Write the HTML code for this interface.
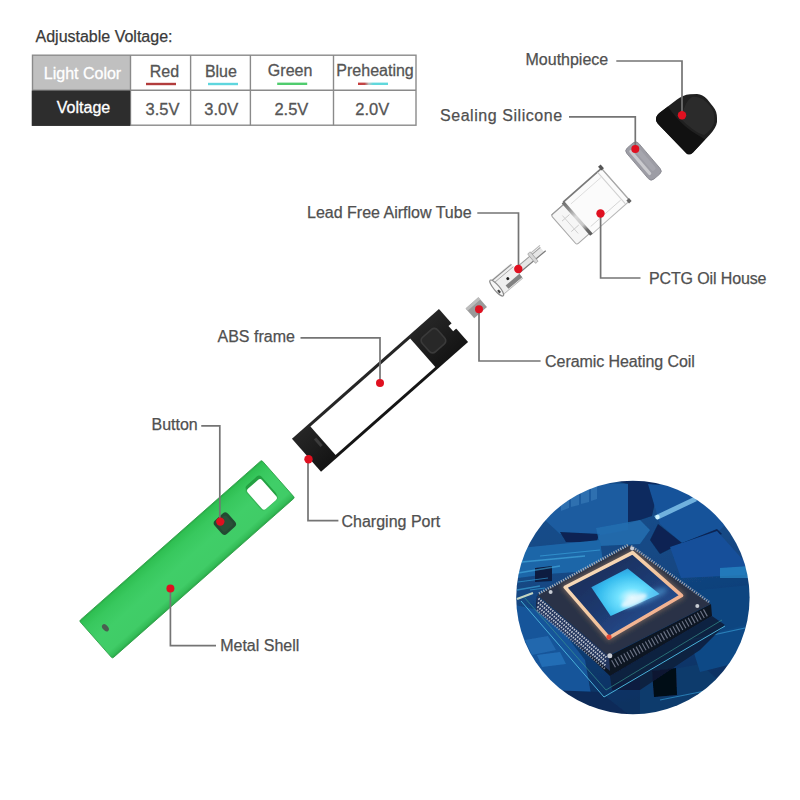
<!DOCTYPE html>
<html><head><meta charset="utf-8">
<style>
html,body{margin:0;padding:0;background:#fff;}
body{width:800px;height:800px;position:relative;overflow:hidden;font-family:"Liberation Sans",sans-serif;}
.l{position:absolute;font-size:16px;line-height:16px;color:#505050;white-space:nowrap;-webkit-text-stroke:0.25px currentColor;}
.t{position:absolute;font-size:16px;line-height:16px;white-space:nowrap;text-align:center;-webkit-text-stroke:0.3px currentColor;}
svg{position:absolute;left:0;top:0;}
</style></head><body>
<svg width="800" height="800" viewBox="0 0 800 800">
<defs>
<clipPath id="cc"><circle cx="632.9" cy="597.5" r="116.7"/></clipPath>
<linearGradient id="preh" x1="0" x2="1" y1="0" y2="0">
<stop offset="0" stop-color="#c83c3c"/><stop offset="0.22" stop-color="#c04848"/><stop offset="0.36" stop-color="#b8c8c8"/><stop offset="0.5" stop-color="#60d8dc"/><stop offset="1" stop-color="#60d8dc"/>
</linearGradient>
<radialGradient id="glow" cx="0.6" cy="0.62" r="0.75">
<stop offset="0" stop-color="#f4ffff"/><stop offset="0.28" stop-color="#72e2ff"/><stop offset="0.65" stop-color="#36bcee"/><stop offset="1" stop-color="#2888d0"/>
</radialGradient>
<linearGradient id="bgc" x1="0" y1="0" x2="0.2" y2="1">
<stop offset="0" stop-color="#17528f"/><stop offset="0.5" stop-color="#124682"/><stop offset="1" stop-color="#0b3060"/>
</linearGradient>
<filter id="blur06" x="-5%" y="-5%" width="110%" height="110%"><feGaussianBlur stdDeviation="0.55"/></filter>
<filter id="blur1" x="-50%" y="-50%" width="200%" height="200%"><feGaussianBlur stdDeviation="1.5"/></filter>
<filter id="blur2" x="-50%" y="-50%" width="200%" height="200%"><feGaussianBlur stdDeviation="2.5"/></filter>
<linearGradient id="dieg" x1="0" y1="0" x2="1" y2="1"><stop offset="0" stop-color="#1a2850"/><stop offset="0.5" stop-color="#1e3a70"/><stop offset="1" stop-color="#2a5aa6"/></linearGradient>
<linearGradient id="rimg" x1="0" y1="0" x2="1" y2="1"><stop offset="0" stop-color="#f8e4c8"/><stop offset="0.5" stop-color="#f4c8a0"/><stop offset="1" stop-color="#f09a80"/></linearGradient>
</defs>

<!-- TABLE -->
<rect x="32.5" y="55.5" width="98" height="35" fill="#c0c0c0"/>
<g stroke="#8a8a8a" stroke-width="1.4" fill="none">
<rect x="32.5" y="55.2" width="383.5" height="70"/>
<line x1="32.5" y1="90.2" x2="416" y2="90.2"/>
<line x1="130.5" y1="55" x2="130.5" y2="125.5"/>
<line x1="190.6" y1="55" x2="190.6" y2="125.5"/>
<line x1="250.4" y1="55" x2="250.4" y2="125.5"/>
<line x1="333.5" y1="55" x2="333.5" y2="125.5"/>
</g>
<rect x="31.8" y="90.6" width="98.4" height="35.3" fill="#2d2d2d"/>
<rect x="146" y="82.8" width="30" height="2.4" fill="#b23c3c"/>
<rect x="208" y="82.8" width="30" height="2.4" fill="#5ed6de"/>
<rect x="277.2" y="82.6" width="30" height="2.4" fill="#50cc6e"/>
<rect x="358" y="82.6" width="30" height="2.4" fill="url(#preh)"/>

<!-- MOUTHPIECE -->
<path d="M656,119 C656,116 658,114 660,112.5 L677,99.5 C681,96.5 685,94.5 690,94.2 L697,94 C701,94.2 704,96 707,99 L713,106.5 C716,110 717,114 717,118 L717,122 C716.5,126 714,130 710,134.5 L693,152.5 C691,154.5 688.5,155 686.5,153.5 L659,125 C656.5,122.5 656,121 656,119 Z" fill="#202020"/>
<path d="M692,97 C699,96 705,100 710,106 C714,111 715,117 714,123 C712,128 709,132 704,135 C697,133 688,126 681,119 C683,110 686,101 692,97 Z" fill="#2e2e2e" opacity="0.85"/>
<path d="M656,119 C656,116 658,114 660,112.5 L668,106.5 C672,113 680,122 688,128.5 C694,133 700,136 705,139.5 L693,152.5 C691,154.5 688.5,155 686.5,153.5 L659,125 C656.5,122.5 656,121 656,119 Z" fill="#111111"/>

<!-- SEALING SILICONE -->
<g transform="translate(643.5,161) rotate(49.5)">
<rect x="-20.5" y="-7.8" width="41" height="15.6" rx="4" fill="#9d9da5" stroke="#85858d" stroke-width="0.8"/>
<rect x="-17" y="1.8" width="32" height="3.2" rx="1.5" fill="#cacace"/>
<rect x="-12" y="-5" width="26" height="5" rx="2" fill="#a6a6ae"/>
</g>

<!-- PCTG OIL HOUSE -->
<g transform="translate(589.8,207.3) rotate(-41.4)" fill="none">
<rect x="-16.5" y="-21.5" width="51" height="43" fill="#fbfbfb" stroke="#b8b8b8" stroke-width="1"/>
<rect x="-34.5" y="-19.5" width="18" height="39" rx="2" fill="#f6f6f6" stroke="#a8a8a8" stroke-width="1.1"/>
<line x1="-16.5" y1="-21.5" x2="34.5" y2="-21.5" stroke="#7a7a7a" stroke-width="1.7"/>
<line x1="-34" y1="-19.5" x2="-16.5" y2="-19.5" stroke="#9a9a9a" stroke-width="1.2"/>
<defs><linearGradient id="bandg" x1="0" y1="0" x2="0" y2="1"><stop offset="0" stop-color="#6e6e6e"/><stop offset="0.2" stop-color="#8a8a8a"/><stop offset="0.45" stop-color="#d8d8d8"/><stop offset="0.7" stop-color="#c8c8c8"/><stop offset="0.85" stop-color="#6a6a6a"/><stop offset="1" stop-color="#5a5a5a"/></linearGradient></defs>
<rect x="-18.5" y="-21.5" width="3.4" height="43" fill="url(#bandg)"/>
<line x1="34.5" y1="-22.5" x2="34.5" y2="22.5" stroke="#a8a8a8" stroke-width="1.4"/>
<line x1="29" y1="-21" x2="29" y2="21" stroke="#d0d0d0" stroke-width="1"/>
<line x1="-12" y1="-15" x2="28" y2="-15" stroke="#dcdcdc" stroke-width="0.9"/>
<line x1="-12" y1="15" x2="28" y2="15" stroke="#d4d4d4" stroke-width="0.9"/>
<rect x="33" y="-25" width="3.5" height="5" fill="#555"/>
<rect x="32" y="19" width="3.5" height="4" fill="#666"/>
<line x1="-30" y1="-8" x2="-20" y2="-8" stroke="#c8c8c8" stroke-width="0.9"/>
<line x1="-30" y1="6" x2="-20" y2="6" stroke="#c8c8c8" stroke-width="0.9"/>
<line x1="-26" y1="-12" x2="-26" y2="12" stroke="#d0d0d0" stroke-width="0.9"/>
</g>

<!-- AIRFLOW TUBE -->
<g transform="translate(496.3,288.3) rotate(-40)">
<rect x="0" y="-10" width="27" height="20" fill="#efefef"/>
<line x1="1" y1="-8.6" x2="27" y2="-8.6" stroke="#8c8c8c" stroke-width="1.2"/>
<line x1="2" y1="-5.6" x2="27" y2="-5.6" stroke="#a8a8a8" stroke-width="0.9"/>
<rect x="9" y="3.8" width="18" height="4.4" fill="#828282"/>
<line x1="2" y1="9.2" x2="27" y2="9.2" stroke="#b0b0b0" stroke-width="0.8"/>
<circle cx="15" cy="0" r="1.5" fill="#1a1a1a"/>
<ellipse cx="0.5" cy="0" rx="2.8" ry="10.2" fill="#f6f6f6" stroke="#8a8a8a" stroke-width="1.1"/>
<rect x="-1" y="2.5" width="2.2" height="3.4" fill="#444"/>
<rect x="27" y="-3.4" width="33" height="6.8" fill="#e6e6e6"/>
<line x1="27" y1="-3" x2="60" y2="-3" stroke="#9c9c9c" stroke-width="1"/>
<line x1="27" y1="3" x2="62" y2="3" stroke="#7c7c7c" stroke-width="1.2"/>
<rect x="46" y="-6.2" width="3.5" height="12.4" rx="1" fill="#d6d6d6" stroke="#9a9a9a" stroke-width="0.7"/>
<line x1="49" y1="-4.8" x2="61" y2="-4.8" stroke="#b8b8b8" stroke-width="1.2"/>
</g>

<!-- CERAMIC COIL -->
<g transform="translate(476.3,307.8) rotate(-41.4)">
<rect x="-8.5" y="-6.5" width="17" height="13" fill="#9a9a9a"/>
<rect x="-8.5" y="-6.5" width="17" height="3" fill="#bdbdbd"/>
</g>

<!-- ABS FRAME -->
<g transform="translate(380,390.4) rotate(-41.4)">
<defs><linearGradient id="absg" x1="0" y1="0" x2="0" y2="1"><stop offset="0" stop-color="#262626"/><stop offset="1" stop-color="#141414"/></linearGradient></defs>
<rect x="-98" y="-22" width="196" height="44" fill="url(#absg)"/>
<rect x="-76" y="-19" width="133" height="38" fill="#ffffff"/>
<rect x="62" y="-12.5" width="22" height="21" rx="5" fill="#3a3a3a"/>
<rect x="63.6" y="-10.9" width="18.8" height="17.8" rx="4" fill="#282828"/>
<rect x="-82" y="-7" width="3" height="10" fill="#3c3c3c"/>
<rect x="94" y="-3" width="5" height="7" fill="#ffffff"/>
</g>

<!-- GREEN SHELL -->
<g transform="translate(187,559.3) rotate(-41.4)">
<defs>
<linearGradient id="gsh" x1="0" y1="0" x2="0" y2="1">
<stop offset="0" stop-color="#27a844"/><stop offset="0.04" stop-color="#2fbf52"/><stop offset="0.2" stop-color="#38c85e"/><stop offset="0.5" stop-color="#40ce68"/><stop offset="0.85" stop-color="#40cc67"/><stop offset="0.95" stop-color="#34bd58"/><stop offset="1" stop-color="#2aa848"/>
</linearGradient>
</defs>
<rect x="-121.5" y="-25" width="243" height="50" rx="1.5" fill="url(#gsh)" stroke="#2c9e46" stroke-width="0.8"/>
<rect x="88.5" y="-13.8" width="21.5" height="28.5" rx="3.5" fill="#36b456"/>
<rect x="90.5" y="-16" width="20" height="28" rx="3.5" fill="#24a042"/>
<rect x="89.7" y="-12.6" width="19" height="27" rx="3" fill="#ffffff"/>
<rect x="43" y="-10.7" width="18" height="18" rx="4" fill="#234a32"/>
<rect x="45.5" y="-8.2" width="13" height="13" rx="3" fill="#2a5038"/>
<ellipse cx="-106.5" cy="-2.6" rx="2.6" ry="4.2" fill="#4a5e50"/>
</g>

<!-- CHIP CIRCLE -->
<g clip-path="url(#cc)"><g filter="url(#blur06)">
<rect x="510" y="475" width="245" height="245" fill="url(#bgc)"/>
<!-- background blocks -->
<polygon points="540,500 600,484 628,484 628,530 596,536 560,534 545,520" fill="#1b5ca0"/>
<g fill="#3474b4" opacity="0.8">
<polygon points="561,498 569,494 569,508 561,511"/>
<polygon points="571,493 579,490 579,505 571,507"/>
<polygon points="581,490 589,487 589,502 581,504"/>
<polygon points="591,487 597,485 597,499 591,501"/>
</g>
<polygon points="615,481 660,481 652,516 628,524 628,484" fill="#0c2c5e"/>
<polygon points="560,532 600,534 596,542 566,542" fill="#0a2452"/>
<polygon points="596,528 640,520 650,530 640,544 600,546" fill="#236fb0" opacity="0.85"/>
<polygon points="520,548 600,540 604,570 548,574 518,578" fill="#1f66a8"/>
<polygon points="535,568 552,566 552,581 535,582" fill="#0a1a40"/>
<polygon points="648,484 700,488 730,520 720,530 682,543 660,524" fill="#15539a"/>
<polygon points="658,524 682,543 660,554 650,540" fill="#0a2452"/>
<polygon points="682,543 717,529 722,534 684,548" fill="#0a2452"/>
<polygon points="670,547 717,531 745,562 745,575 681,578" fill="#14509a"/>
<polygon points="720,568 750,566 750,578 720,578" fill="#2a8ac8" opacity="0.7"/>
<polygon points="700,590 750,585 750,650 700,655" fill="#0f4580"/>
<polygon points="515,605 548,612 585,660 592,700 545,702 515,680" fill="#17559a"/>
<polygon points="537,655 560,652 566,664 542,667" fill="#2a78c0" opacity="0.7"/>
<polygon points="548,690 600,692 630,716 548,716" fill="#0a2a58"/>
<polygon points="640,675 700,664 730,690 700,720 640,720" fill="#0d3a6c"/>
<polygon points="652,671 676,668 677,695 654,697" fill="#050c18"/>
<polygon points="690,640 745,625 748,660 700,672" fill="#114a86"/>
<g stroke="#3aa8e0" stroke-width="1.2" opacity="0.6">
<line x1="518" y1="582" x2="548" y2="578"/>
<line x1="540" y1="556" x2="600" y2="550"/>
<line x1="530" y1="590" x2="545" y2="588"/>
<line x1="690" y1="640" x2="745" y2="628"/>
<line x1="660" y1="700" x2="720" y2="688"/>
</g>
<line x1="517" y1="599" x2="533" y2="593" stroke="#d8e4c8" stroke-width="2.2" opacity="0.9"/>
<g stroke="#48b8ea" stroke-width="1.6" opacity="0.55">
<line x1="518" y1="573" x2="560" y2="566"/>
<line x1="522" y1="562" x2="585" y2="556"/>
<line x1="517" y1="590" x2="540" y2="586"/>
</g>
<polygon points="525,640 548,636 556,650 532,655" fill="#2a78c0" opacity="0.55"/>
<polygon points="654,516 694,497 697,501 657,520" fill="#8fd0f4" opacity="0.75"/>
<circle cx="657.5" cy="517" r="2.2" fill="#d0f4ff"/>
<polygon points="610,676 712,616 725,625 700,650 640,690 612,690" fill="#0a1c38" opacity="0.85"/>
<!-- pcb outline -->
<polyline points="521,601 604,697 725,626" fill="none" stroke="#4ab0d8" stroke-width="1"/>
<polyline points="524,597 606,690 722,620" fill="none" stroke="#3c9a90" stroke-width="0.8" opacity="0.8"/>
<!-- package shadow / sides -->
<polygon points="537,596 609,656 711,604 712,616 610,676 536,606" fill="#0c1424"/>
<polygon points="537,596 609,656 610,671 536,610" fill="#24365e"/>
<!-- package top -->
<polygon points="629,545.6 710.6,604 608.4,655.8 537.2,595.1" fill="#2a3346"/>
<!-- pins top-left and top-right edges -->
<line x1="539" y1="593.5" x2="628" y2="545" stroke="#a8b0bc" stroke-width="2.6" stroke-dasharray="1.2 1.3"/>
<line x1="631" y1="546" x2="709" y2="602" stroke="#98a0b0" stroke-width="2.6" stroke-dasharray="1.2 1.3"/>
<!-- pins bottom-left (3 rows of balls) -->
<g stroke="#c4cad4" stroke-width="2" stroke-dasharray="1.4 1.2" fill="none">
<line x1="538.5" y1="598.5" x2="606.5" y2="657.5"/>
<line x1="538" y1="602.5" x2="606" y2="661.5"/>
<line x1="537.5" y1="606.5" x2="605.5" y2="665.5"/>
<line x1="537" y1="610" x2="605" y2="669" stroke="#9aa4b8" opacity="0.8"/>
</g>
<!-- pins bottom-right -->
<g stroke="#6a7282" stroke-width="8" stroke-dasharray="1.2 2.3" fill="none">
<line x1="613" y1="664" x2="707" y2="612"/>
</g>
<!-- die rim -->
<polygon points="565.1,587.2 632.6,552.6 681.6,595.6 609,637.8" fill="none" stroke="#f0b080" stroke-width="6" stroke-linejoin="round" opacity="0.35" filter="url(#blur2)"/>
<polygon points="565.1,587.2 632.6,552.6 681.6,595.6 609,637.8" fill="url(#dieg)" stroke="url(#rimg)" stroke-width="3.5" stroke-linejoin="round"/>
<circle cx="609" cy="637" r="2.6" fill="#e84a34"/>
<!-- glow -->
<polygon points="591.3,587.2 627.6,568.6 659.6,594 610.7,615.9" fill="url(#glow)"/>
<ellipse cx="645" cy="598" rx="24" ry="5" fill="#5ab8f0" opacity="0.5" transform="rotate(-22 645 598)" filter="url(#blur2)"/>
<ellipse cx="634" cy="600.5" rx="14" ry="4.5" fill="#f0fcff" opacity="0.8" transform="rotate(-24 634 600.5)" filter="url(#blur1)"/>
<!-- balls -->
<g fill="#c8ccd4">
<circle cx="550.6" cy="592.1" r="2"/>
<circle cx="632.1" cy="548.5" r="2"/>
<circle cx="697.3" cy="606" r="2"/>
<circle cx="609.8" cy="655.8" r="2.5"/>
</g>
</g></g>
</svg>

<!-- TEXT -->
<div class="l" style="left:35.5px;top:28.7px;color:#3a3a3a">Adjustable Voltage:</div>
<div class="t" style="left:33.5px;top:65.8px;width:98px;color:#fff">Light Color</div>
<div class="t" style="left:34.5px;top:100.2px;width:98px;color:#fff">Voltage</div>
<div class="t" style="left:134.5px;top:64px;width:60px;color:#555">Red</div>
<div class="t" style="left:190.9px;top:64px;width:60px;color:#555">Blue</div>
<div class="t" style="left:248.6px;top:62.8px;width:83px;color:#555">Green</div>
<div class="t" style="left:333.8px;top:62.8px;width:82.5px;color:#555">Preheating</div>
<div class="t" style="left:132.5px;top:101px;width:60px;color:#555;font-size:16.5px">3.5V</div>
<div class="t" style="left:191.2px;top:101px;width:60px;color:#555;font-size:16.5px">3.0V</div>
<div class="t" style="left:249.9px;top:101px;width:83px;color:#555;font-size:16.5px">2.5V</div>
<div class="t" style="left:331px;top:101px;width:82.5px;color:#555;font-size:16.5px">2.0V</div>

<div class="l" style="left:525.5px;top:51.7px">Mouthpiece</div>
<div class="l" style="left:440px;top:107.7px;letter-spacing:0.55px">Sealing Silicone</div>
<div class="l" style="left:307px;top:204.5px">Lead Free Airflow Tube</div>
<div class="l" style="left:649px;top:271px;letter-spacing:-0.13px">PCTG Oil House</div>
<div class="l" style="left:217.5px;top:329px">ABS frame</div>
<div class="l" style="left:545.1px;top:353.5px;letter-spacing:-0.08px">Ceramic Heating Coil</div>
<div class="l" style="left:151.5px;top:416.5px">Button</div>
<div class="l" style="left:341.5px;top:514px">Charging Port</div>
<div class="l" style="left:220.2px;top:637.5px">Metal Shell</div>

<!-- RED DOTS (on top) -->
<svg width="800" height="800" viewBox="0 0 800 800" style="position:absolute;left:0;top:0">
<!-- LEADER LINES -->
<g stroke="#747474" stroke-width="1.7" fill="none">
<path d="M616.3,61 H682 V115"/>
<path d="M569,116.8 H635.3 V148.5"/>
<path d="M477.3,213 H518.5 V268.75"/>
<path d="M600.6,213.5 V278 H640.5"/>
<path d="M479,309 V361 H540.6"/>
<path d="M300.5,337.8 H380 V383"/>
<path d="M308,459 V520.6 H338.4"/>
<path d="M201.25,425.9 H219.8 V521.75"/>
<path d="M170.4,588.4 V645.6 H216"/>
</g>

<g fill="#e01020">
<circle cx="682" cy="115.3" r="4.2"/>
<circle cx="635.3" cy="149" r="4"/>
<circle cx="518.3" cy="269" r="4.2"/>
<circle cx="600.5" cy="213.5" r="4.2"/>
<circle cx="479" cy="309.2" r="4"/>
<circle cx="380" cy="383" r="4"/>
<circle cx="308.5" cy="459.3" r="4.2"/>
<circle cx="220.3" cy="521.6" r="4.2"/>
<circle cx="170.4" cy="588.4" r="4"/>
</g>
</svg>
</body></html>
